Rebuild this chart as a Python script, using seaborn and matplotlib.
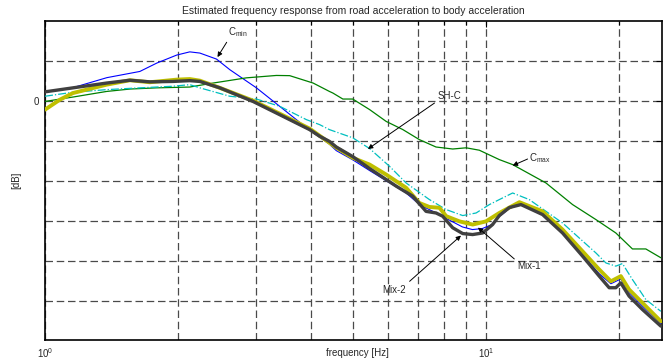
import numpy as np
import pandas as pd
import seaborn as sns
import matplotlib as mpl
from matplotlib import pyplot as plt
from matplotlib.ticker import FixedLocator, NullFormatter

sns.set_style("white")
mpl.rcParams["font.family"] = ["Liberation Sans", "DejaVu Sans"]
mpl.rcParams["mathtext.fontset"] = "custom"
mpl.rcParams["mathtext.rm"] = "Liberation Sans"
mpl.rcParams["mathtext.it"] = "Liberation Sans"

# frequency [Hz] / magnitude [dB]
cmin_f = [1.0, 1.157, 1.381, 1.64, 1.792, 1.988, 2.128, 2.243, 2.446, 2.622, 3.013, 3.40,
          3.977, 4.41, 4.57, 4.98, 5.44, 6.58, 7.05, 7.69, 8.35, 8.83, 9.30, 9.79, 10.3,
          10.7, 11.27, 11.88, 13.41, 14.88, 16.52, 18.02, 19.15, 20.17, 21.06, 22.58, 24.85]
cmin_db = [2.1, 3.25, 5.75, 7.3, 9.4, 11.4, 12.2, 11.9, 10.4, 7.75, 3.2, -1.4,
           -7.4, -10.9, -12.5, -14.8, -17.5, -23.1, -26.0, -28.1, -30.2, -31.6, -32.25, -32.0, -31.0,
           -29.0, -27.0, -26.0, -28.3, -32.8, -38.5, -43.3, -45.8, -44.6, -48.0, -51.4, -55.75]

cmax_f = [1.0, 1.157, 1.379, 1.557, 1.792, 2.128, 2.403, 2.859, 3.344, 3.584, 4.05, 4.41,
          4.49, 4.73, 4.98, 5.44, 5.93, 6.47, 7.05, 7.69, 8.39, 9.0, 9.64, 10.7, 11.47,
          13.65, 15.68, 17.71, 19.65, 21.43, 22.98, 24.85]
cmax_db = [-0.2, 0.9, 2.3, 2.9, 3.2, 3.4, 4.4, 5.7, 6.3, 6.25, 4.4, 2.3,
           1.9, 0.4, 0.4, -2.25, -5.2, -7.25, -9.75, -11.6, -12.1, -11.8, -12.4, -14.75, -16.0,
           -20.6, -26.0, -29.75, -33.1, -37.1, -37.1, -39.3]

shc_f = [1.0, 1.157, 1.379, 1.64, 1.948, 2.128, 2.243, 2.622, 3.013, 3.40, 3.91, 4.19,
         4.41, 4.98, 5.44, 6.03, 6.58, 7.43, 8.11, 8.84, 9.48, 10.16, 10.7, 11.47, 12.51,
         14.88, 17.71, 18.66, 19.65, 20.34, 21.43, 22.98, 24.85]
shc_db = [1.1, 2.1, 2.75, 3.2, 3.6, 4.0, 3.2, 1.1, 0.4, -1.4, -4.75, -6.0,
          -7.25, -9.3, -12.0, -16.4, -20.6, -24.75, -27.25, -28.75, -28.1, -26.0, -24.75, -23.1, -24.75,
          -30.6, -38.1, -40.6, -41.4, -40.75, -44.75, -49.75, -52.7]

mix1_f = [1.0, 1.081, 1.157, 1.379, 1.557, 1.728, 1.986, 2.128, 2.243, 2.489, 2.96, 3.40,
          3.977, 4.57, 4.98, 5.44, 5.93, 6.58, 7.05, 7.43, 7.83, 8.11, 8.69, 9.31, 9.98,
          10.7, 11.88, 13.41, 14.88, 16.52, 18.02, 19.15, 20.17, 21.06, 22.58, 24.85]
mix1_db = [-2.25, 0.25, 1.9, 4.0, 5.1, 4.6, 5.25, 5.4, 5.0, 3.2, 0.0, -3.25,
           -7.0, -11.75, -14.3, -16.0, -18.5, -21.8, -25.6, -26.6, -26.8, -28.9, -30.2, -31.0, -30.2,
           -28.1, -25.4, -27.7, -32.25, -37.7, -42.25, -45.2, -43.9, -47.25, -50.6, -55.2]

mix2_f = [1.0, 1.157, 1.379, 1.557, 1.728, 1.948, 2.128, 2.243, 2.489, 2.96, 3.40, 3.977,
          4.19, 4.41, 4.57, 4.98, 5.44, 6.25, 6.81, 7.30, 7.69, 7.96, 8.39, 8.84, 9.31,
          9.81, 10.33, 10.7, 11.27, 11.98, 13.41, 14.88, 16.52, 18.02, 18.98, 19.65, 20.17,
          21.06, 22.58, 24.85]
mix2_db = [2.2, 3.2, 4.4, 5.1, 4.7, 4.8, 5.0, 4.8, 3.2, -0.2, -3.5, -7.25,
           -8.9, -10.2, -11.6, -14.0, -17.0, -21.4, -23.9, -27.7, -28.1, -28.9, -31.8, -33.25, -33.5,
           -33.1, -31.0, -28.75, -26.75, -26.0, -28.5, -33.1, -38.9, -43.9, -46.8, -46.8, -45.6,
           -48.9, -52.25, -56.4]

y_ticks = [-50, -40, -30, -20, -10, 0, 10]
y_ticklabels = ["", "", "", "", "", "0", ""]

fig = plt.figure(figsize=(6.69, 3.61), dpi=100)
ax = fig.add_axes([0.0673, 0.0568, 0.9222, 0.8859])

lines = [
    (cmin_f, cmin_db, "#0000FF", 0.8, "-"),
    (cmax_f, cmax_db, "#008000", 0.9, "-"),
    (shc_f, shc_db, "#00BFBF", 0.9, "-."),
    (mix1_f, mix1_db, "#BFBF00", 2.8, "-"),
    (mix2_f, mix2_db, "#404040", 2.4, "-"),
]
for f, db, color, lw, ls in lines:
    sns.lineplot(x=f, y=db, ax=ax, color=color, lw=lw, linestyle=ls, sort=False,
                 estimator=None, zorder=3)

ax.set_xscale("log")
ax.set_xlim(1, 25)
ax.set_ylim(-60, 20)
ax.set_yticks(y_ticks)
ax.set_yticklabels(y_ticklabels)
ax.xaxis.set_minor_locator(FixedLocator([2, 3, 4, 5, 6, 7, 8, 9, 20]))
ax.xaxis.set_minor_formatter(NullFormatter())

grid_kw = dict(color="#4a4a4a", lw=0.9, linestyle=(0, (6, 3)), zorder=1)
ax.grid(True, which="both", axis="x", **grid_kw)
ax.grid(True, which="major", axis="y", **grid_kw)

ax.tick_params(which="both", direction="in", top=True, right=True, labelsize=7,
               color="black", pad=4)
ax.tick_params(which="major", length=4, width=0.8)
ax.tick_params(which="minor", length=3, width=0.8)
for spine in ax.spines.values():
    spine.set_color("black")
    spine.set_linewidth(1.2)

ax.set_title("Estimated frequency response from road acceleration to body acceleration",
             fontsize=7.5, pad=5)
ax.set_xlabel("frequency [Hz]", fontsize=7)
ax.set_ylabel("[dB]", fontsize=7)
ax.xaxis.set_label_coords(0.506, -0.025)
ax.yaxis.set_label_coords(-0.039, 0.5)

arrow = dict(arrowstyle="-|>", color="black", lw=0.7, mutation_scale=7, shrinkA=0, shrinkB=0)
notes = [
    (r"C$_{\rm min}$", (2.459, 10.9), (2.733, 17.25), (2.58, 14.6)),
    ("SH-C", (5.39, -12.1), (8.25, 1.1), (7.63, -0.6)),
    (r"C$_{\rm max}$", (11.47, -16.25), (13.25, -14.25), (12.4, -14.6)),
    ("Mix-1", (9.57, -31.75), (12.51, -41.4), (11.57, -39.6)),
    ("Mix-2", (8.76, -33.75), (6.19, -47.25), (6.70, -45.2)),
]
for label, tip, text_xy, start in notes:
    ax.annotate("", xy=tip, xytext=start, arrowprops=arrow, zorder=5)
    ax.text(*text_xy, label, fontsize=7, ha="center", va="center", zorder=5)

fig.savefig("out.png", dpi=100)
